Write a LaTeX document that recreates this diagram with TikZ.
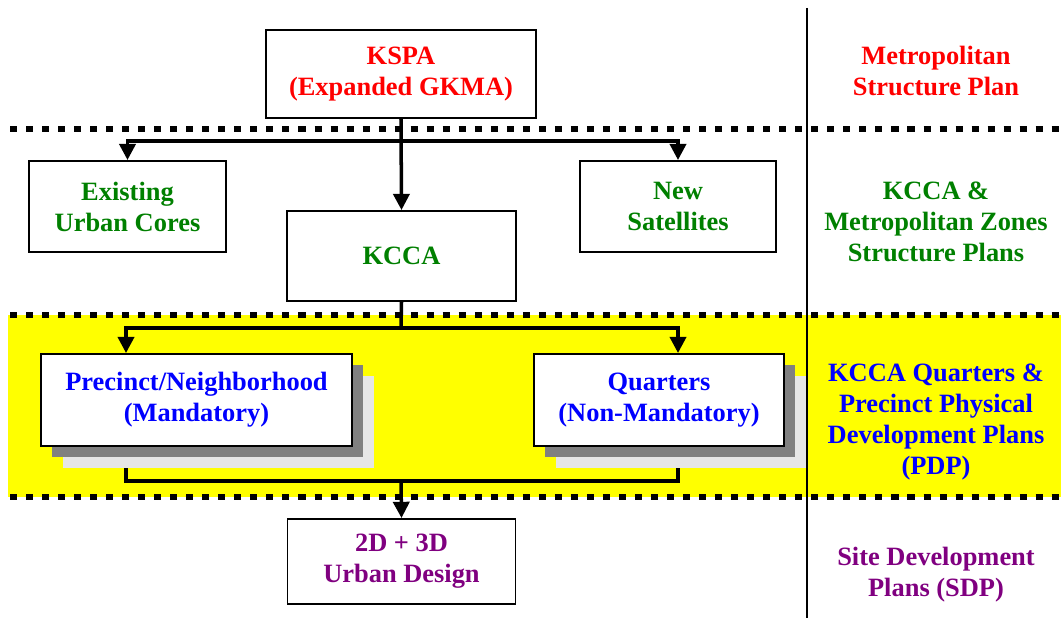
\documentclass[tikz,border=0pt]{standalone}
\usepackage{fontspec}
\setmainfont{Liberation Serif}
\usepackage{tikz}
\usetikzlibrary{positioning,arrows.meta,shadows,backgrounds,calc}
\definecolor{metrored}{HTML}{FF0000}
\definecolor{zonegreen}{HTML}{008000}
\definecolor{pdpblue}{HTML}{0000FF}
\definecolor{sdppurple}{HTML}{800080}
\definecolor{bandyellow}{HTML}{FFFF00}
\definecolor{shadedark}{HTML}{808080}
\definecolor{shadelight}{HTML}{E6E6E6}

\begin{document}
\begin{tikzpicture}[
  font=\fontsize{18.8}{22}\selectfont\bfseries,
  box/.style={draw=black,line width=1.4pt,fill=white,align=center,inner sep=2pt},
  shadowbox/.style={box,
    copy shadow={shadow xshift=0.55cm,shadow yshift=-0.55cm,fill=shadelight,draw=none},
    copy shadow={shadow xshift=0.275cm,shadow yshift=-0.275cm,fill=shadedark,draw=none}},
  edge/.style={-{Triangle[length=11.5pt,width=11.5pt]},line width=2.5pt},
  link/.style={line width=2.5pt},
  dotrule/.style={line width=4.3pt,dash pattern=on 5pt off 6.4pt},
  level/.style={align=center}
]
\useasboundingbox (0,0) rectangle (26.525,-15.45);

% boxes
\node[box,minimum width=6.75cm,minimum height=2.2cm,text=metrored] (kspa) at (10.025,-1.85) {KSPA\\(Expanded GKMA)};
\node[box,minimum width=4.925cm,minimum height=2.275cm,text=zonegreen] (exist) at (3.1875,-5.1625) {Existing\\Urban Cores};
\node[box,minimum width=4.9cm,minimum height=2.275cm,text=zonegreen] (sat) at (16.95,-5.1625) {New\\Satellites};
\node[box,minimum width=5.725cm,minimum height=2.25cm,text=zonegreen] (kcca) at (10.0375,-6.4) {KCCA};
\node[shadowbox,minimum width=7.775cm,minimum height=2.3cm,text=pdpblue] (prec) at (4.9125,-10.0) {Precinct/Neighborhood\\(Mandatory)};
\node[shadowbox,minimum width=6.25cm,minimum height=2.3cm,text=pdpblue] (quart) at (16.475,-10.0) {Quarters\\(Non-Mandatory)};
\node[box,minimum width=5.7cm,minimum height=2.125cm,text=sdppurple,below=5.4cm of kcca] (urban) {2D + 3D\\Urban Design};

% plan levels
\node[level,text=metrored] (lvlmetro) at (23.4,-1.775) {Metropolitan\\Structure Plan};
\node[level,text=zonegreen] (lvlzone) at (23.4,-5.55) {KCCA \&\\Metropolitan Zones\\Structure Plans};
\node[level,text=pdpblue] (lvlpdp) at (23.4,-10.55) {KCCA Quarters \&\\Precinct Physical\\Development Plans\\(PDP)};
\node[level,text=sdppurple] (lvlsdp) at (23.4,-14.37) {Site Development\\Plans (SDP)};

\draw[line width=1pt] (20.175,-0.2) -- (20.175,-15.45);

\coordinate (topfork) at (10.025,-3.525);
\coordinate (midfork) at (10.025,-8.2);
\coordinate (botfork) at (10.025,-12.025);

\begin{scope}[on background layer]
  \fill[bandyellow] (0.2,-7.875) rectangle (26.525,-12.425);
  \foreach \y in {-3.225,-7.875,-12.425}
    \draw[dotrule] (0.25,\y) -- (26.6,\y);
  \draw[edge] (kspa.south) -- (kcca.north);
  \draw[edge] (topfork) -| (exist.north);
  \draw[edge] (topfork) -| (sat.north);
  \draw[link] (kcca.south) -- (midfork);
  \draw[edge] (midfork) -| ([xshift=2.15cm]prec.north west);
  \draw[edge] (midfork) -| ([xshift=3.625cm]quart.north west);
  \draw[link] ([xshift=2.15cm]prec.south west) |- (botfork) -| ([xshift=3.625cm]quart.south west);
  \draw[edge] (botfork) -- (urban.north);
\end{scope}
\end{tikzpicture}
\end{document}
